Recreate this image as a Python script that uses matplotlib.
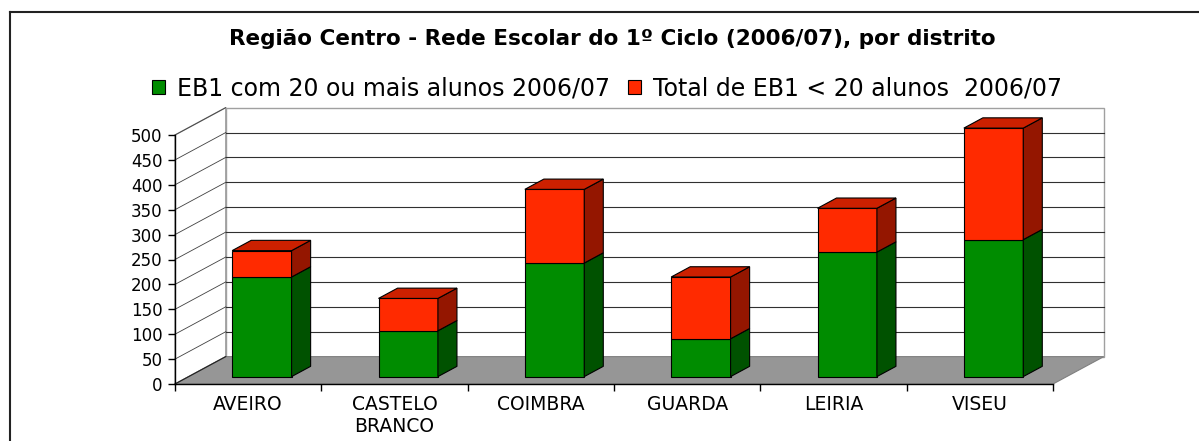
import matplotlib
matplotlib.use("Agg")
import matplotlib.pyplot as plt
from matplotlib.patches import Polygon
from matplotlib.lines import Line2D
import numpy as np

# ---------------- data ----------------
categories = ["AVEIRO", "CASTELO\nBRANCO", "COIMBRA", "GUARDA", "LEIRIA", "VISEU"]
eb1_20_plus = [200, 92, 228, 76, 250, 275]
eb1_under_20 = [53, 65, 148, 124, 88, 224]
series_labels = ["EB1 com 20 ou mais alunos 2006/07", "Total de EB1 < 20 alunos  2006/07"]
chart_title = "Região Centro - Rede Escolar do 1º Ciclo (2006/07), por distrito"
y_ticks = list(range(0, 501, 50))

# ---------------- style ----------------
plt.rcParams["font.family"] = ["DejaVu Sans"]
W, H = 1199, 441
fig = plt.figure(figsize=(W / 100, H / 100), dpi=100)

GREEN_F, GREEN_S = "#008C00", "#005200"
RED_F, RED_S, RED_T = "#FF2A00", "#941600", "#CC2000"
FLOOR = "#969696"

ax = fig.add_axes([175 / W, 1 - 384 / H, 878 / W, 249 / H])
n = len(categories)
x0, x1 = -0.5, n - 0.5
ymax = y_ticks[-1]
ax.set_xlim(x0, x1)
ax.set_ylim(0, ymax)
ax.patch.set_visible(False)

DX, DY = 0.347, 55.0          # full depth offset (category units, value units)
F0, F1 = 0.27, 0.645          # bar front / back depth fraction
BW = 0.406                    # bar width

# back wall
ax.add_patch(Polygon([(x0 + DX, DY), (x1 + DX, DY), (x1 + DX, ymax + DY), (x0 + DX, ymax + DY)],
                     closed=True, fc="white", ec="#a0a0a0", lw=1.0, clip_on=False, zorder=0.2))
for v in y_ticks[1:-1]:
    ax.add_line(Line2D([x0 + DX, x1 + DX], [v + DY, v + DY], color="#303030", lw=0.8,
                       clip_on=False, zorder=0.3))
# left wall
ax.add_patch(Polygon([(x0, 0), (x0 + DX, DY), (x0 + DX, ymax + DY), (x0, ymax)],
                     closed=True, fc="white", ec="#a0a0a0", lw=1.0, clip_on=False, zorder=0.2))
for v in y_ticks[1:]:
    ax.add_line(Line2D([x0, x0 + DX], [v, v + DY], color="#404040", lw=0.6,
                       clip_on=False, zorder=0.3))
# floor
ax.add_patch(Polygon([(x0, 0), (x1, 0), (x1 + DX, DY), (x0 + DX, DY)],
                     closed=True, fc=FLOOR, ec="#808080", lw=0.8, clip_on=False, zorder=0.4))
ax.add_line(Line2D([x0, x0 + DX], [0, DY], color="#202020", lw=0.8, clip_on=False, zorder=0.5))

# bars (front faces)
xs = np.arange(n) + F0 * DX
base = F0 * DY
green = np.array(eb1_20_plus, dtype=float)
red = np.array(eb1_under_20, dtype=float)
g = ax.bar(xs, green, BW, bottom=base, color=GREEN_F, edgecolor="black", lw=0.8,
           zorder=3, label=series_labels[0], clip_on=False)
r = ax.bar(xs, red, BW, bottom=base + green, color=RED_F, edgecolor="black", lw=0.8,
           zorder=3, label=series_labels[1], clip_on=False)

ddx, ddy = (F1 - F0) * DX, (F1 - F0) * DY


def side(xr, b, t, color):
    ax.add_patch(Polygon([(xr, b), (xr + ddx, b + ddy), (xr + ddx, t + ddy), (xr, t)],
                         closed=True, fc=color, ec="black", lw=0.8, clip_on=False, zorder=3))


def top(xl, xr, t, color):
    ax.add_patch(Polygon([(xl, t), (xr, t), (xr + ddx, t + ddy), (xl + ddx, t + ddy)],
                         closed=True, fc=color, ec="black", lw=0.8, clip_on=False, zorder=3))


for i in range(n):
    xl, xr = xs[i] - BW / 2, xs[i] + BW / 2
    b0 = base
    b1 = base + green[i]
    b2 = b1 + red[i]
    side(xr, b0, b1, GREEN_S)
    side(xr, b1, b2, RED_S)
    top(xl, xr, b2, RED_T)

# axes / ticks
for s in ("top", "right"):
    ax.spines[s].set_visible(False)
ax.spines["left"].set_color("black")
ax.spines["bottom"].set_color("black")
ax.spines["left"].set_linewidth(1.0)
ax.spines["bottom"].set_linewidth(1.0)
ax.set_yticks(y_ticks)
ax.set_yticklabels([str(v) for v in y_ticks])
ax.tick_params(axis="y", direction="out", length=5, width=1, pad=4, labelsize=12)
ax.set_xticks(np.arange(x0, x1 + 0.01, 1.0))
ax.set_xticklabels([])
ax.tick_params(axis="x", which="major", direction="out", length=5, width=1)
ax.set_xticks(np.arange(n), minor=True)
ax.set_xticklabels(categories, minor=True, fontsize=13.5, linespacing=1.2)
ax.tick_params(axis="x", which="minor", length=0, pad=8)

# title & legend
fig.text(612 / W, 1 - 39 / H, chart_title, ha="center", va="center",
         fontsize=15.5, fontweight="bold")
fig.legend(handles=[g, r], labels=series_labels, loc="center",
           bbox_to_anchor=(607 / W, 1 - 88.5 / H), ncol=2, frameon=False,
           fontsize=17, handlelength=0.55, handleheight=0.5,
           handletextpad=0.5, columnspacing=0.8)

# chart-area border (top & left visible)
fig.add_artist(Line2D([10 / W, 1.0], [1 - 12 / H, 1 - 12 / H], transform=fig.transFigure,
                      color="#222222", lw=1.5))
fig.add_artist(Line2D([10 / W, 10 / W], [0.0, 1 - 12 / H], transform=fig.transFigure,
                      color="#222222", lw=1.5))

fig.savefig("out.png", dpi=100)
